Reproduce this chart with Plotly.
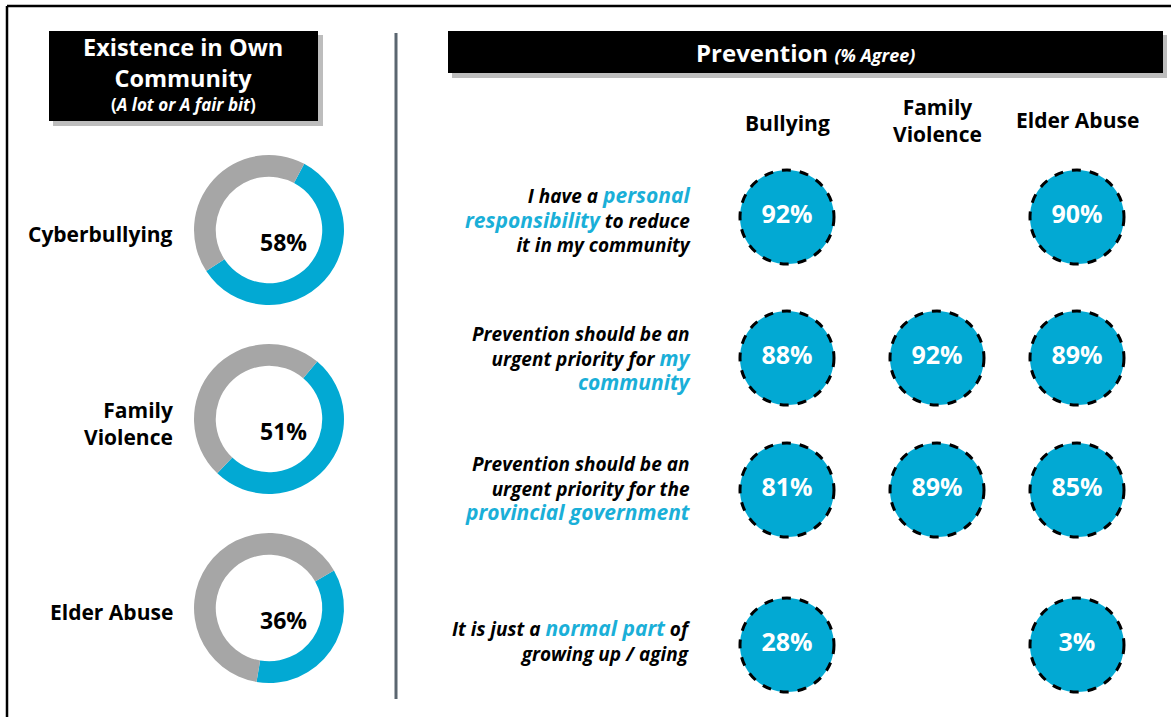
import plotly.graph_objects as go

W, H = 1171, 717

# ---------------- data ----------------
donut_labels = ["Cyberbullying", "Family<br>Violence", "Elder Abuse"]
donut_values = [58, 51, 36]

column_labels = ["Bullying", "Family<br>Violence", "Elder Abuse"]
bullying = [92, 88, 81, 28]
family_violence = [None, 92, 89, None]
elder_abuse = [90, 89, 85, 3]

BLUE_T = "#1AAFD8"
def hl(t, size=21):
    return f"<span style='color:{BLUE_T};font-size:{size}px'>{t}</span>"

statements = [
    f"I have a {hl('personal')}<br>{hl('responsibility')} to reduce<br>it in my community",
    f"Prevention should be an<br>urgent priority for {hl('my')}<br>{hl('community')}",
    f"Prevention should be an<br>urgent priority for the<br>{hl('provincial government')}",
    f"It is just a {hl('normal part')} of<br>growing up / aging",
]

# ---------------- layout constants ----------------
FONT = "Open Sans"
BLUE = "#02A9D3"
GREY = "#A6A6A6"
donut_cx = 269
donut_cy = [230, 419, 608]
donut_r = 75
donut_rot = [28, 40, 60]
col_x = [787, 937, 1077]
row_y = [217, 358, 490, 645]
circ_r = 47
label_y = [219, 358, 488, 640]

fig = go.Figure()

# donuts
for i, v in enumerate(donut_values):
    cy = donut_cy[i]
    fig.add_trace(go.Pie(
        values=[v, 100 - v], labels=["Yes", "No"], sort=False,
        direction="clockwise", rotation=donut_rot[i], hole=0.71,
        marker=dict(colors=[BLUE, GREY], line=dict(width=0)),
        textinfo="none", hoverinfo="skip", showlegend=False,
        domain=dict(x=[(donut_cx - donut_r) / W, (donut_cx + donut_r) / W],
                    y=[1 - (cy + donut_r) / H, 1 - (cy - donut_r) / H]),
    ))

# prevention circles text through axes
series = [bullying, family_violence, elder_abuse]
shapes = []
for j, s in enumerate(series):
    xs, ys, ts = [], [], []
    for i, v in enumerate(s):
        if v is None:
            continue
        xs.append(col_x[j]); ys.append(row_y[i]); ts.append(f"{v}%")
        shapes.append(dict(type="circle", xref="x", yref="y",
                           x0=col_x[j] - circ_r, x1=col_x[j] + circ_r,
                           y0=row_y[i] - circ_r, y1=row_y[i] + circ_r,
                           fillcolor=BLUE, line=dict(color="black", width=3, dash="dash"),
                           layer="below"))
    fig.add_trace(go.Scatter(x=xs, y=ys, text=ts, mode="text", showlegend=False,
                             hoverinfo="skip",
                             textfont=dict(family=FONT, size=25, color="white", weight="bold")))

# frame, divider, header boxes
shapes += [
    dict(type="line", xref="x", yref="y", x0=7, x1=W, y0=6, y1=6, line=dict(color="black", width=2.5)),
    dict(type="line", xref="x", yref="y", x0=7, x1=7, y0=6, y1=H, line=dict(color="black", width=2.5)),
    dict(type="line", xref="x", yref="y", x0=396, x1=396, y0=33, y1=699, line=dict(color="#5B6670", width=3)),
    dict(type="rect", xref="x", yref="y", x0=53, x1=323, y0=35, y1=126, fillcolor="#BDBDBD", line=dict(width=0), layer="below"),
    dict(type="rect", xref="x", yref="y", x0=49, x1=318, y0=31, y1=121, fillcolor="black", line=dict(width=0), layer="below"),
    dict(type="rect", xref="x", yref="y", x0=452, x1=1167, y0=35, y1=78, fillcolor="#BDBDBD", line=dict(width=0), layer="below"),
    dict(type="rect", xref="x", yref="y", x0=448, x1=1163, y0=31, y1=73, fillcolor="black", line=dict(width=0), layer="below"),
]

ann = []
def A(x, y, text, size, color="black", xanchor="center", bold=True, italic=False):
    ann.append(dict(x=x, y=y, xref="x", yref="y", text=text, showarrow=False,
                    xanchor=xanchor, yanchor="middle", align=xanchor if xanchor != "center" else "center",
                    font=dict(family=FONT, size=size, color=color,
                              weight="bold" if bold else "normal",
                              style="italic" if italic else "normal")))

A(183, 62, "Existence in Own<br>Community", 23.5, "white")
A(183, 104, "(<i>A lot or A fair bit</i>)", 17, "white")
A(805, 52, "Prevention <span style='font-size:18px'><i>(% Agree)</i></span>", 24, "white")

for i, lab in enumerate(donut_labels):
    A(175, donut_cy[i] + 4, lab, 21, xanchor="right")
    A(donut_cx + 14, donut_cy[i] + 12, f"{donut_values[i]}%", 23)

col_y = [123, 120, 120]
for j, lab in enumerate(column_labels):
    A(col_x[j], col_y[j], lab, 21)

for i, st in enumerate(statements):
    A(693, label_y[i], st, 19, xanchor="right", italic=True)

fig.update_layout(
    width=W, height=H, margin=dict(l=0, r=0, t=0, b=0),
    paper_bgcolor="white", plot_bgcolor="rgba(0,0,0,0)",
    xaxis=dict(range=[0, W], visible=False, domain=[0, 1], fixedrange=True),
    yaxis=dict(range=[H, 0], visible=False, domain=[0, 1], fixedrange=True),
    shapes=shapes, annotations=ann, showlegend=False,
)

fig.write_html("out.html")
